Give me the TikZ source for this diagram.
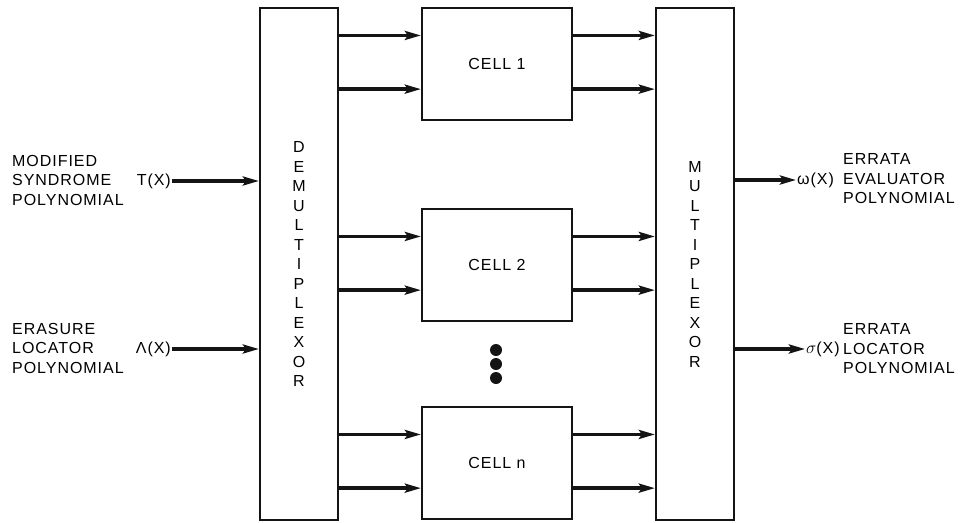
\documentclass[tikz,border=0pt]{standalone}
\usepackage{fontspec}
\setmainfont{Liberation Sans}[LetterSpace=6]
\usetikzlibrary{arrows.meta,positioning,calc}
\definecolor{ink}{RGB}{20,20,20}
\tikzset{
  blk/.style={draw=ink,line width=2.2pt,minimum width=78pt,minimum height=512pt,inner sep=0pt},
  cellbox/.style={draw=ink,line width=2.2pt,minimum width=150pt,minimum height=112pt,font=\lbl},
  arr/.style={-{Stealth[length=16pt,width=9pt,inset=3pt]},line width=3.6pt,draw=ink},
  sig/.style={font=\lbl,inner sep=1pt},
  desc/.style={font=\lbl,align=left,inner sep=0pt},
  dot/.style={circle,fill=ink,inner sep=0pt,minimum size=12pt},
}
\newcommand{\lbl}{\fontsize{16}{19.5}\selectfont}
\begin{document}
\begin{tikzpicture}[x=1pt,y=-1pt]
\useasboundingbox (0,0) rectangle (971,522);
% demultiplexor, cells and multiplexor
\node[blk] (demux) at (299,264) {};
\node[font=\lbl,align=center] (demuxtxt) at (demux.center)
  {D\\E\\M\\U\\L\\T\\I\\P\\L\\E\\X\\O\\R};
\node[blk] (mux) at (695,264) {};
\node[font=\lbl,align=center] (muxtxt) at (mux.center)
  {M\\U\\L\\T\\I\\P\\L\\E\\X\\O\\R};
\node[cellbox] (cell1) at (497,64)  {CELL 1};
\node[cellbox] (cell2) at (497,265) {CELL 2};
\node[cellbox] (celln) at (497,463) {CELL n};
\node[dot] (d1) at (496,350) {};
\node[dot] (d2) at (496,364) {};
\node[dot] (d3) at (496,378) {};
% two lines into and out of every cell
\foreach \c in {cell1,cell2,celln}{
  \foreach \f in {0.25,0.72}{
    \coordinate (in) at ($(\c.north west)!\f!(\c.south west)$);
    \coordinate (out) at ($(\c.north east)!\f!(\c.south east)$);
    \draw[arr] (demux.east |- in) -- (in);
    \draw[arr] (out) -- (mux.west |- out);
  }
}
% inputs
\node[desc,anchor=west] (syn) at (12,180) {MODIFIED\\SYNDROME\\POLYNOMIAL};
\node[sig,anchor=east] (tx) at (172,181) {T(X)};
\draw[arr] (tx.east) -- (tx.east -| demux.west);
\node[desc,anchor=west] (era) at (12,348) {ERASURE\\LOCATOR\\POLYNOMIAL};
\node[sig,anchor=east] (lx) at (172,349) {Λ(X)};
\draw[arr] (lx.east) -- (lx.east -| demux.west);
% outputs
\node[sig,anchor=west] (wx) at (796,180) {ω(X)};
\draw[arr] (wx.west -| mux.east) -- (wx.west);
\node[desc,anchor=west] (eva) at (843,179) {ERRATA\\EVALUATOR\\POLYNOMIAL};
\node[sig,anchor=west] (sx) at (805,349) {$\sigma$(X)};
\draw[arr] (sx.west -| mux.east) -- (sx.west);
\node[desc,anchor=west] (loc) at (843,349) {ERRATA\\LOCATOR\\POLYNOMIAL};
\end{tikzpicture}
\end{document}
